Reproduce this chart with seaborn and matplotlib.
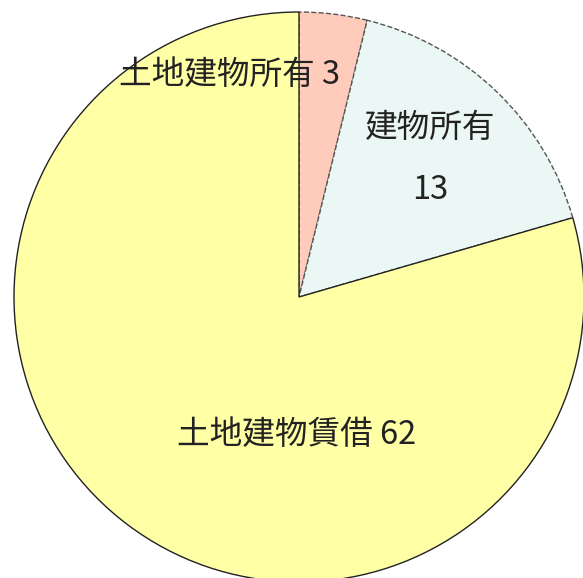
import matplotlib
matplotlib.use("Agg")
import matplotlib.pyplot as plt
import seaborn as sns

sns.set_theme(style="white")
plt.rcParams['font.family'] = ['Noto Sans CJK JP', 'DejaVu Sans']

categories = ["土地建物所有", "建物所有", "土地建物賃借"]
values = [3, 13, 62]
colors = ["#FFCCBB", "#EAF7F4", "#FFFFA6"]
edge_colors = ["#555555", "#555555", "#222222"]
edge_styles = ["--", "--", "-"]

W, H = 583, 578
fig = plt.figure(figsize=(W / 100, H / 100), dpi=100)
ax = fig.add_axes([0, 0, 1, 1])
cx, cy, r = 299, H - 297, 285

wedges, _ = ax.pie(values, colors=colors, startangle=90, counterclock=False,
                   center=(cx, cy), radius=r, frame=True)
for w, ec, ls in zip(wedges, edge_colors, edge_styles):
    w.set_edgecolor(ec)
    w.set_linewidth(1.0)
    w.set_linestyle(ls)
wedges[0].set_zorder(1)
wedges[1].set_zorder(1)
wedges[2].set_zorder(2)

ax.set_xlim(0, W)
ax.set_ylim(0, H)
ax.set_aspect('equal')
ax.axis('off')

tc = "#222222"
fs = 23.5
ax.text(230, H - 75, f"{categories[0]} {values[0]}", ha="center", va="center", fontsize=fs, color=tc, zorder=5)
ax.text(430, H - 128, categories[1], ha="center", va="center", fontsize=fs, color=tc, zorder=5)
ax.text(430, H - 190, f"{values[1]}", ha="center", va="center", fontsize=fs, color=tc, zorder=5)
ax.text(297, H - 435, f"{categories[2]} {values[2]}", ha="center", va="center", fontsize=fs, color=tc, zorder=5)

fig.savefig("out.png", dpi=100, facecolor="white")
